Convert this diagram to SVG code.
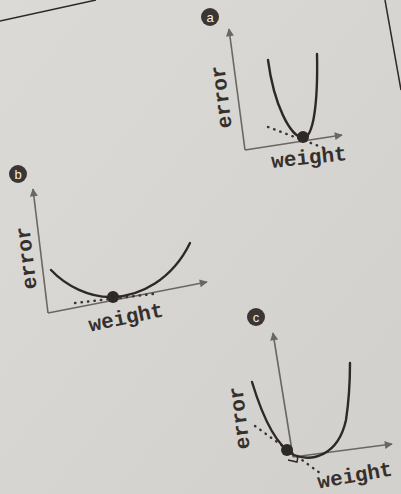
<svg xmlns="http://www.w3.org/2000/svg" width="401" height="494" viewBox="0 0 401 494">
<defs>
<marker id="arr" viewBox="0 0 10 10" refX="9" refY="5" markerWidth="11" markerHeight="8" markerUnits="userSpaceOnUse" orient="auto">
<path d="M0,0 L10,5 L0,10 z" fill="#6a6663"/>
</marker>
<linearGradient id="bg" x1="0" y1="0" x2="1" y2="1">
<stop offset="0" stop-color="#dcdad6"/>
<stop offset="1" stop-color="#d2d0cc"/>
</linearGradient>
</defs>
<style>
.axis{fill:none;stroke:#6a6663;stroke-width:1.6;marker-end:url(#arr)}
.curve{fill:none;stroke:#2e2927;stroke-width:2.4;stroke-linecap:round}
.dots{fill:none;stroke:#3a3431;stroke-width:2.4;stroke-dasharray:0.5 6;stroke-linecap:round}
.dot{fill:#2e2927}
.badge{fill:#3b3533}
.bl{font-family:"Liberation Sans",Arial,sans-serif;font-size:13px;fill:#f2f0ec;text-anchor:middle}
.lbl{font-family:"Liberation Mono","Courier New",monospace;font-weight:bold;font-size:21px;fill:#36302c;text-anchor:middle}
.edge{fill:none;stroke:#2e2a28;stroke-width:1.5}
</style>
<rect width="401" height="494" fill="url(#bg)"/>
<path class="edge" d="M0,21 L96,0"/>
<path class="edge" d="M385,0 L401,90"/>

<g id="panel-a">
<circle class="badge" cx="210" cy="17" r="9"/>
<text class="bl" x="210" y="21.5">a</text>
<path class="axis" d="M245,150 L229,29"/>
<path class="axis" d="M245,150 L342,135"/>
<path class="dots" d="M268,127 L324,148"/>
<path class="curve" d="M268,60 C274,105 290,136 303,138 C314,138 318,100 317,54"/>
<circle class="dot" cx="303" cy="137" r="6"/>
<text class="lbl" transform="translate(222,97) rotate(-97)" y="6">error</text>
<text class="lbl" transform="translate(309,158) rotate(-6)" y="6">weight</text>
</g>

<g id="panel-b">
<circle class="badge" cx="18" cy="174" r="9"/>
<text class="bl" x="18" y="178.5">b</text>
<path class="axis" d="M48,313 L33,189"/>
<path class="axis" d="M48,313 L207,282"/>
<path class="dots" d="M75,303 L153,294"/>
<path class="curve" d="M51,270 C66,286 90,298 113,297 C140,296 172,280 190,243"/>
<circle class="dot" cx="113" cy="297" r="6"/>
<text class="lbl" transform="translate(27,258) rotate(-97)" y="6">error</text>
<text class="lbl" transform="translate(126,318) rotate(-12)" y="6">weight</text>
</g>

<g id="panel-c">
<circle class="badge" cx="256" cy="317" r="9"/>
<text class="bl" x="256" y="321.5">c</text>
<path class="axis" d="M293,457 L273,333"/>
<path class="axis" d="M293,457 L392,444"/>
<path class="dots" d="M255,426 L320,473"/>
<path class="edge" d="M288,460 L297,462 L298,456" stroke-width="1"/>
<path class="curve" d="M252,382 C262,415 276,446 294,455 C312,462 338,456 346,420 C349,400 350,385 350,363"/>
<circle class="dot" cx="287" cy="450" r="6"/>
<text class="lbl" transform="translate(240,418) rotate(-97)" y="6">error</text>
<text class="lbl" transform="translate(355,476) rotate(-10)" y="6">weight</text>
</g>
</svg>
